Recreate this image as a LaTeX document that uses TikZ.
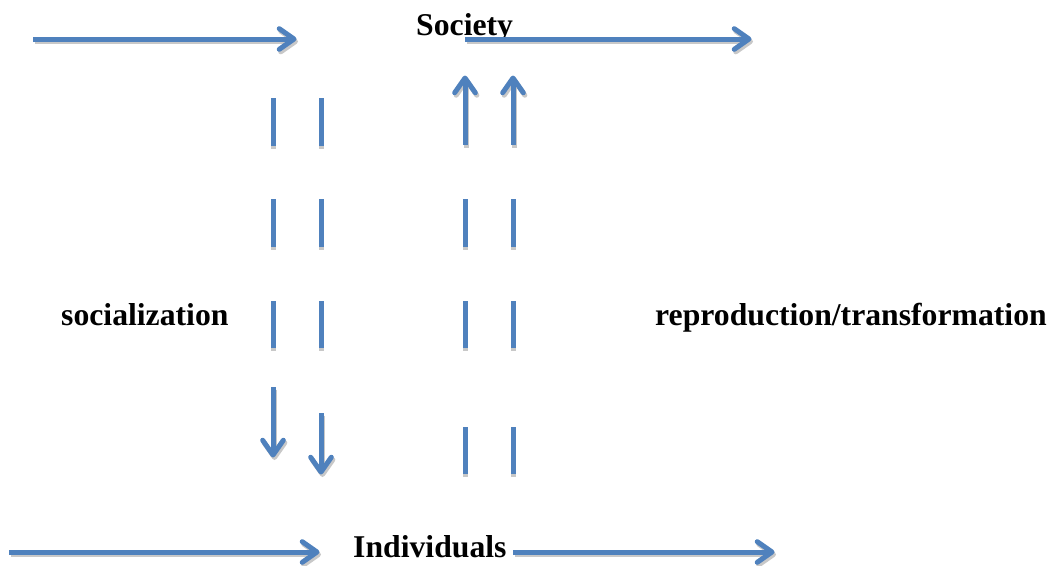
\documentclass[tikz,border=0pt]{standalone}
\usepackage{fontspec}
\setmainfont{Liberation Serif}
\definecolor{officeblue}{HTML}{4F81BD}
\definecolor{shadowgray}{HTML}{C8C8C8}
\tikzset{
  lbl/.style={font=\fontsize{31.7}{36}\selectfont\bfseries, inner sep=0pt, anchor=base west},
  flowline/.style={line width=5pt, draw=officeblue},
  flowshadow/.style={line width=5pt, draw=shadowgray},
  headline/.style={line width=5pt, draw=officeblue, line cap=round, line join=round},
  headshadow/.style={line width=5pt, draw=shadowgray, line cap=round, line join=round}
}
% #1 start, #2 end, #3 direction angle (in picture coordinates)
\newcommand\flowarrow[3]{%
  \draw[flowshadow] ([shift={(1.5,2.5)}]#1) -- ([shift={(1.5,2.5)}]#2);
  \draw[headshadow] ([shift={(1.5,2.5)}]#2) ++(#3+145:18) -- ([shift={(1.5,2.5)}]#2) -- ++(#3-145:18);
  \draw[flowline] (#1) -- (#2);
  \draw[headline] (#2) ++(#3+145:18) -- (#2) -- ++(#3-145:18);
}
\newcommand\dashpiece[2]{%
  \draw[flowshadow] ([shift={(0,2.5)}]#1) -- ([shift={(0,2.5)}]#2);
  \draw[flowline] (#1) -- (#2);
}
\begin{document}
\begin{tikzpicture}[x=1pt,y=-1pt]
\useasboundingbox (0,0) rectangle (1052,565);
% texts
\node[lbl] (society) at (416,35) {Society};
\node[lbl] (individuals) at (353,557) {Individuals};
\node[lbl] (socialization) at (61,325) {socialization};
\node[lbl] (reproduction) at (655,325) {reproduction/transformation};
% horizontal arrows
\coordinate (tl0) at (33,39);  \coordinate (tl1) at (294,39);
\coordinate (tr0) at (465,39); \coordinate (tr1) at (749,39);
\coordinate (bl0) at (9,552);  \coordinate (bl1) at (317,552);
\coordinate (br0) at (513,552); \coordinate (br1) at (772,552);
\flowarrow{tl0}{tl1}{0}
\flowarrow{tr0}{tr1}{0}
\flowarrow{bl0}{bl1}{0}
\flowarrow{br0}{br1}{0}
% up arrows (reproduction)
\coordinate (ua0) at (465,145); \coordinate (ua1) at (465,78);
\coordinate (ub0) at (513,145); \coordinate (ub1) at (513,78);
\flowarrow{ua0}{ua1}{270}
\flowarrow{ub0}{ub1}{270}
% down arrows (socialization)
\coordinate (da0) at (273,387); \coordinate (da1) at (273,455);
\coordinate (db0) at (321,413); \coordinate (db1) at (321,472);
\flowarrow{da0}{da1}{90}
\flowarrow{db0}{db1}{90}
% dashes
\foreach \x in {273,321}{
  \foreach \a/\b in {98/146,199/247,301/348}{
    \dashpiece{\x,\a}{\x,\b}
  }
}
\foreach \x in {465,513}{
  \foreach \a/\b in {199/247,301/348,427/474}{
    \dashpiece{\x,\a}{\x,\b}
  }
}
\end{tikzpicture}
\end{document}
